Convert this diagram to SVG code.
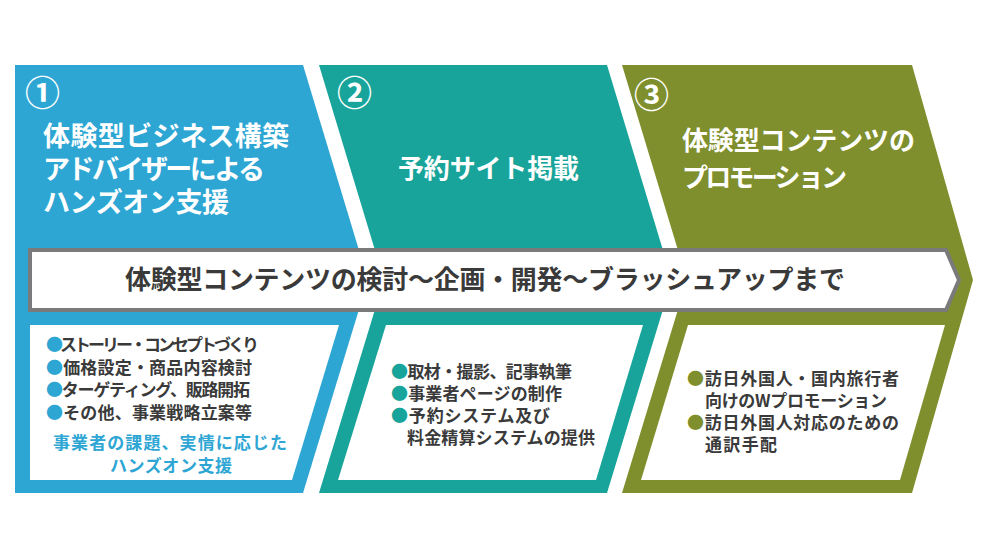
<svg xmlns="http://www.w3.org/2000/svg" width="981" height="552" viewBox="0 0 981 552">
<style>
text{font-family:"Noto Sans CJK JP","Noto Sans CJK SC",sans-serif;font-weight:bold}
.num{fill:#fff;font-size:35px}
.ttl{fill:#fff;font-size:27px}
.bar{fill:#3a3a3a;font-size:26px}
.itm{fill:#3a3a3a;font-size:17px}
.inner{fill:#fff}
.b1{fill:#2ea6d4}
.b2{fill:#18a49a}
.b3{fill:#7f8f2d}
</style>
<rect width="981" height="552" fill="#fff"/>
<g id="panel1">
<polygon class="b1" points="15,65 303,65 368,280 303,493 15,493"/>
<polygon class="inner" points="30,325 339,325 292,480 30,480"/>
<text class="num" x="25" y="106">①</text>
<text class="ttl"><tspan x="43" y="146" textLength="246">体験型ビジネス構築</tspan><tspan x="43" y="179" textLength="222">アドバイザーによる</tspan><tspan x="43" y="212" textLength="186">ハンズオン支援</tspan></text>
<text class="itm"><tspan x="46" y="351" textLength="213"><tspan class="b1">●</tspan>ストーリー・コンセプトづくり</tspan><tspan x="46" y="373.5" textLength="206"><tspan class="b1">●</tspan>価格設定・商品内容検討</tspan><tspan x="46" y="396" textLength="204"><tspan class="b1">●</tspan>ターゲティング、販路開拓</tspan><tspan x="46" y="418.5" textLength="206"><tspan class="b1">●</tspan>その他、事業戦略立案等</tspan></text>
<text class="itm b1"><tspan x="53" y="449" textLength="234">事業者の課題、実情に応じた</tspan><tspan x="110" y="472" textLength="122">ハンズオン支援</tspan></text>
</g>
<g id="panel2">
<polygon class="b2" points="319,65 607,65 672,280 607,493 319,493 384,280"/>
<polygon class="inner" points="386,325 643,325 596,480 338,480"/>
<text class="num" x="337" y="106">②</text>
<text class="ttl" x="398" y="178" textLength="181" style="font-size:26px">予約サイト掲載</text>
<text class="itm"><tspan x="391" y="378" textLength="181"><tspan class="b2">●</tspan>取材・撮影、記事執筆</tspan><tspan x="391" y="400" textLength="171"><tspan class="b2">●</tspan>事業者ページの制作</tspan><tspan x="391" y="421.5" textLength="159"><tspan class="b2">●</tspan>予約システム及び</tspan><tspan x="407" y="443.5" textLength="188">料金精算システムの提供</tspan></text>
</g>
<g id="panel3">
<polygon class="b3" points="622,65 912,65 973,280 912,493 622,493 687,280"/>
<polygon class="inner" points="688,325 945,325 900,480 641,480"/>
<text class="num" x="634" y="108">③</text>
<text class="ttl" style="font-size:26px"><tspan x="682" y="150" textLength="233">体験型コンテンツの</tspan><tspan x="682" y="187" textLength="165">プロモーション</tspan></text>
<text class="itm"><tspan x="687" y="384.5" textLength="212"><tspan class="b3">●</tspan>訪日外国人・国内旅行者</tspan><tspan x="705" y="406.5" textLength="182">向けのWプロモーション</tspan><tspan x="687" y="428.5" textLength="212"><tspan class="b3">●</tspan>訪日外国人対応のための</tspan><tspan x="705" y="451" textLength="72">通訳手配</tspan></text>
</g>
<g id="bar">
<polygon points="30,250 946,250 959,280 946,310 30,310" fill="#fff" stroke="#7a7a7a" stroke-width="4"/>
<text class="bar" x="125" y="289" textLength="720">体験型コンテンツの検討～企画・開発～ブラッシュアップまで</text>
</g>
<g id="connectors"/>
</svg>
